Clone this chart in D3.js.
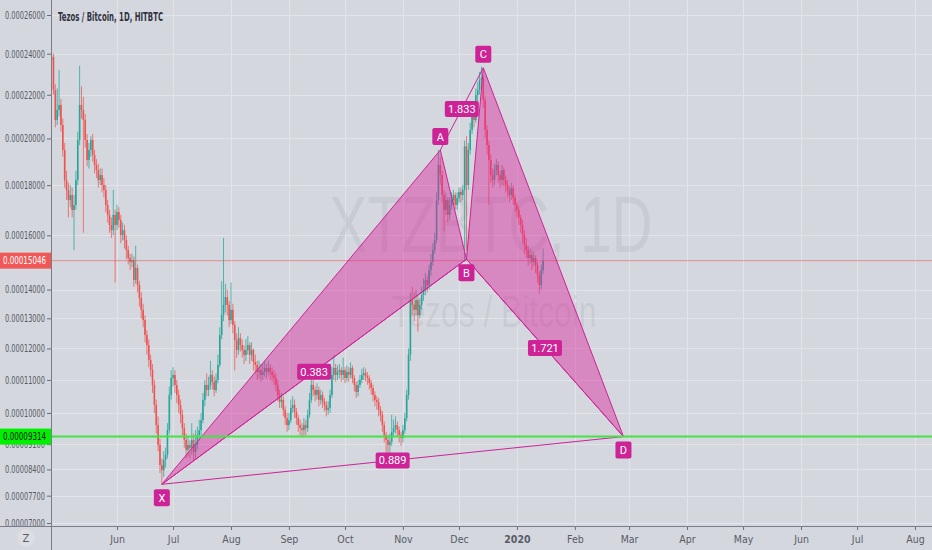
<!DOCTYPE html>
<html>
<head>
<meta charset="utf-8">
<script src="https://cdn.jsdelivr.net/npm/d3@7"></script>
<style>
  body { margin: 0; background: #d4d7de; }
  svg { display: block; }
</style>
</head>
<body>
<div id="chart"></div>
<script>
// XTZ/BTC daily candles, prices in satoshi (1e-8 BTC), one value per day from startDay
const startDay = "2019-04-26";
const firstOpen = 22950;
const closes = [
  23690,23840,22220,20830,21290,21520,20600,19490,18210,17800,
  17390,17595,16990,17190,18210,19930,21520,21290,20830,19930,
  19060,19490,19930,19275,18845,18630,18210,18420,18005,17800,
  17190,16795,16400,16200,16795,16400,16910,16600,16010,16200,
  15820,15440,15145,15000,15070,14340,14775,14160,13700,13290,
  12940,12440,12110,11630,11310,10845,10240,9645,9080,8520,
  8380,8660,8800,9500,10540,11060,11155,10845,10540,10240,
  9940,9555,9220,8940,9080,8995,9220,8885,9080,9360,
  9500,9790,10390,10845,10690,10845,11155,10940,10690,11000,
  11470,12440,13115,13460,13735,13460,12940,13290,12775,12270,
  11950,12340,12110,11950,11790,11950,12110,11790,11950,11565,
  11470,11250,11310,11155,11250,11375,11250,11375,11250,11155,
  11060,10845,10540,10330,10390,10090,9850,9645,9790,10150,
  10240,10030,9850,9645,9555,9500,9645,9555,9940,10390,
  10845,10690,10540,10690,10390,10540,10330,10240,10090,10150,
  10540,11155,11375,11155,11250,11310,11155,11310,11060,11250,
  11155,11375,11060,10845,10630,10845,11000,11155,11215,11125,
  11060,10905,10750,10540,10390,10330,10090,9940,9645,9360,
  9220,9080,9165,9445,9555,9645,9500,9360,9275,9500,
  9850,10540,11790,13630,13460,13290,13630,13115,13460,13805,
  13980,14340,14160,14700,15000,15440,15820,17390,18845,18420,
  17595,16990,17390,16795,17190,17390,17595,17190,17470,17720,
  17595,17800,19650,18005,19490,20380,21290,20830,21985,22220,
  22710,22810,21750,20380,19710,19060,18420,18210,18630,18845,
  18420,18210,18630,18210,18005,17800,17595,17880,17470,17190,
  16990,16680,16400,16010,15630,15440,15145,15255,15000,15145,
  14885,14520,14160,14700,15046
];
const highs = [
  24000,24050,24000,22500,22300,23200,21800,20900,19800,18600,
  18100,18000,17900,17600,18600,20300,23400,22400,21900,21100,
  20200,19800,20100,20200,19500,19100,18900,18700,18700,18300,
  18000,17400,17000,16700,17800,17000,17200,17100,16800,16500,
  16400,16000,15600,15300,15300,15200,15600,14900,14300,13900,
  13500,13100,12600,12300,11800,11500,11000,10400,9900,9250,
  8700,8900,9000,9700,10800,11300,11400,11300,11000,10700,
  10400,10100,9700,9400,9300,9200,9700,9400,9500,9600,
  9800,10000,10600,11000,11200,11100,11600,11300,11100,11200,
  11800,12700,14300,15900,14200,14000,13600,14250,13500,12900,
  12500,12700,12500,12300,12100,12300,12400,12200,12200,12000,
  11800,11600,11600,11500,11500,11600,11500,11600,11500,11400,
  11300,11200,11000,10700,10600,10500,10200,10000,10000,10400,
  10500,10400,10150,9950,9800,9700,9850,9800,10100,10600,
  11400,11000,10800,10900,10800,10700,10650,10450,10350,10350,
  10700,11400,11790,11500,11450,11500,11400,11700,11400,11450,
  11400,11550,11450,11150,10950,11000,11150,11350,11400,11350,
  11250,11150,11000,10850,10650,10500,10450,10200,10050,9750,
  9450,9350,9400,9950,9800,9900,9750,9600,9450,9650,
  10000,10700,12000,13900,14100,13900,14000,13800,13700,14100,
  14400,14600,14500,14900,15300,15700,16100,17700,19490,19200,
  18600,17800,17700,17500,17500,17700,17800,17700,17700,17900,
  17900,18000,19900,20100,19800,20700,21600,21500,22300,22600,
  23100,23350,22900,21900,20600,19900,19300,18700,18900,19100,
  19000,18600,18850,18750,18400,18200,17950,18100,18000,17600,
  17300,17100,16800,16600,16200,15900,15600,15500,15400,15350,
  15250,15000,14650,14900,15500
];
const lows = [
  22700,23300,22000,20500,20600,21000,20300,19200,17900,17400,
  16700,17100,16700,15440,17000,18000,19700,20900,16100,19600,
  18800,18700,19200,19000,18500,18300,17900,18000,17700,17500,
  16900,16500,16100,15900,16000,14250,16200,16300,15700,15800,
  15500,15100,14900,14700,14800,14100,14200,13900,13400,13000,
  12700,12200,11800,11400,11100,10600,10000,9400,8900,8300,
  8000,8200,8450,8700,9400,10400,10800,10600,10300,10000,
  9700,9350,9000,8700,8750,8700,8800,8650,8700,8950,
  9200,9300,9700,10200,10500,10500,10700,10700,10500,10600,
  10900,11400,12300,12900,13200,13100,12700,12800,12500,11300,
  11700,11800,11900,11700,11500,11600,11800,11500,11600,11300,
  11200,11000,11050,10950,11000,11100,11050,11150,11000,10950,
  10850,10650,10350,10150,10150,9900,9650,9450,9500,9700,
  10000,9850,9650,9450,9350,9300,9350,9350,9450,9850,
  10300,10500,10350,10400,10200,10250,10150,10050,9900,9950,
  10000,10450,11000,10950,11000,11050,10950,11000,10900,10950,
  10950,11050,10900,10650,10450,10500,10750,10900,11000,10950,
  10850,10700,10550,10350,10200,10100,9900,9750,9450,9150,
  8750,8750,8800,9050,9300,9400,9300,9150,9050,9150,
  9400,9750,10400,11600,13100,12900,13100,12550,13000,13300,
  13600,13800,13900,14000,14500,14850,15300,15700,17200,18000,
  17300,16150,16800,16500,16600,17000,17200,17000,17000,17300,
  17300,17400,15000,15400,17800,19300,20200,20500,20700,21700,
  22000,22300,21400,20000,19300,17200,18100,17900,18000,18400,
  18100,17900,18000,17950,17700,17500,17300,17400,17200,16900,
  16700,16400,16100,15700,15300,15150,14850,14950,14700,14850,
  14600,14250,13850,14000,14550
];

const lastPrice = 15046;
const levelPrice = 9314;

const yTicks = [26000,24000,22000,20000,18000,16000,14000,13000,12000,11000,10000,9100,8400,7700,7000];
const monthTicks = ["2019-06-01","2019-07-01","2019-08-01","2019-09-01","2019-10-01","2019-11-01","2019-12-01",
  "2020-01-01","2020-02-01","2020-03-01","2020-04-01","2020-05-01","2020-06-01","2020-07-01","2020-08-01"];
const monthLabels = ["Jun","Jul","Aug","Sep","Oct","Nov","Dec","2020","Feb","Mar","Apr","May","Jun","Jul","Aug"];

// harmonic pattern pivots
const pivotNames = ["X","A","B","C","D"];
const pivotDates = ["2019-06-25","2019-11-21","2019-12-05","2019-12-14","2020-02-27"];
const pivotPrices = [8000,19490,15100,23300,9314];
const pivotAbove = [false,true,false,true,false];
const ratioLegs = [["X","B"],["A","C"],["B","D"],["X","D"]];
const ratioValues = ["0.383","1.833","1.721","0.889"];

const width = 932, height = 550;
const left = 51, bottom = 526;
const parse = d3.utcParse("%Y-%m-%d");
const axisFont = "'Liberation Sans Narrow','DejaVu Sans Condensed',Roboto,sans-serif";
const magenta = "rgb(205,35,150)";

const x = d3.scaleUtc()
  .domain([parse("2019-06-01"), parse("2020-08-01")])
  .range([117, 915]);

// TradingView log-ish price scale: matches a symlog with a 0.0001 BTC constant
const y = d3.scaleSymlog()
  .constant(10000)
  .domain([7000, 26000])
  .range([523, 15]);

const t0 = parse(startDay);
const bars = closes.map((c, i) => ({
  date: d3.utcDay.offset(t0, i),
  open: i ? closes[i - 1] : firstOpen,
  high: highs[i],
  low: lows[i],
  close: c
}));

const svg = d3.select("#chart").append("svg")
  .attr("width", width)
  .attr("height", height)
  .attr("viewBox", [0, 0, width, height]);

svg.append("rect").attr("width", width).attr("height", height).attr("fill", "#d4d7de");

svg.append("clipPath").attr("id", "plot")
  .append("rect").attr("x", left).attr("y", 0).attr("width", width - left).attr("height", bottom);

// grid
const grid = svg.append("g").attr("stroke", "#e2e4e9").attr("stroke-width", 1);
grid.selectAll(".h").data(yTicks).join("line")
  .attr("x1", left).attr("x2", width)
  .attr("y1", d => Math.round(y(d)) + 0.5).attr("y2", d => Math.round(y(d)) + 0.5);
grid.selectAll(".v").data(monthTicks).join("line")
  .attr("y1", 0).attr("y2", bottom)
  .attr("x1", d => Math.round(x(parse(d))) + 0.5).attr("x2", d => Math.round(x(parse(d))) + 0.5);

// watermark
const wm = svg.append("g").attr("fill", "rgba(120,123,134,0.13)").attr("text-anchor", "middle")
  .attr("font-family", "'Liberation Sans','DejaVu Sans',sans-serif");
wm.append("text").attr("x", 491).attr("y", 252).attr("font-size", 80)
  .attr("textLength", 323).attr("lengthAdjust", "spacingAndGlyphs").text("XTZBTC, 1D");
wm.append("text").attr("x", 494).attr("y", 327).attr("font-size", 44)
  .attr("textLength", 205).attr("lengthAdjust", "spacingAndGlyphs").text("Tezos / Bitcoin");

// candles
const plot = svg.append("g").attr("clip-path", "url(#plot)");
const color = d => d.close >= d.open ? "#26a69a" : "#ef5350";
plot.append("g").selectAll("line").data(bars).join("line")
  .attr("x1", d => x(d.date)).attr("x2", d => x(d.date))
  .attr("y1", d => y(d.high)).attr("y2", d => y(d.low))
  .attr("stroke", color).attr("stroke-width", 1).attr("stroke-opacity", 0.75);
plot.append("g").selectAll("rect").data(bars).join("rect")
  .attr("x", d => x(d.date) - 0.8)
  .attr("width", 1.6)
  .attr("y", d => y(Math.max(d.open, d.close)))
  .attr("height", d => Math.max(1, Math.abs(y(d.open) - y(d.close))))
  .attr("fill", color);

// last price line
plot.append("line").attr("x1", left).attr("x2", width)
  .attr("y1", y(lastPrice)).attr("y2", y(lastPrice))
  .attr("stroke", "rgba(239,83,80,0.55)").attr("stroke-width", 1);

// XABCD pattern
const pts = pivotNames.map((n, i) => ({ name: n, px: x(parse(pivotDates[i])), py: y(pivotPrices[i]), above: pivotAbove[i] }));
const P = Object.fromEntries(pts.map(p => [p.name, p]));
const pat = plot.append("g");
pat.selectAll("polygon").data([["X","A","B"],["B","C","D"]]).join("polygon")
  .attr("points", d => d.map(n => [P[n].px, P[n].py].join(",")).join(" "))
  .attr("fill", "rgba(220,40,155,0.45)")
  .attr("stroke", magenta).attr("stroke-width", 1).attr("stroke-linejoin", "round");
pat.selectAll("line").data(ratioLegs).join("line")
  .attr("x1", d => P[d[0]].px).attr("y1", d => P[d[0]].py)
  .attr("x2", d => P[d[1]].px).attr("y2", d => P[d[1]].py)
  .attr("stroke", magenta).attr("stroke-width", 1);

// horizontal level
plot.append("line").attr("x1", left).attr("x2", width)
  .attr("y1", y(levelPrice)).attr("y2", y(levelPrice))
  .attr("stroke", "#45e245").attr("stroke-width", 2);

// ratio labels on legs
const labelFont = "Roboto,'Liberation Sans',sans-serif";
const ratios = svg.append("g").selectAll("g").data(ratioLegs).join("g")
  .attr("transform", d => `translate(${(P[d[0]].px + P[d[1]].px) / 2},${(P[d[0]].py + P[d[1]].py) / 2})`);
ratios.append("rect").attr("x", -17).attr("y", -8).attr("width", 34).attr("height", 16).attr("rx", 2)
  .attr("fill", magenta);
ratios.append("text").attr("text-anchor", "middle").attr("dy", "0.35em")
  .attr("fill", "#fff").attr("font-size", 11).attr("font-family", labelFont)
  .text((d, i) => ratioValues[i]);

// pivot labels
const pivots = svg.append("g").selectAll("g").data(pts).join("g")
  .attr("transform", d => `translate(${d.px},${d.above ? d.py - 13.5 : d.py + 13.5})`);
pivots.append("rect").attr("x", -8).attr("y", -8.5).attr("width", 16).attr("height", 17).attr("rx", 2)
  .attr("fill", magenta);
pivots.append("text").attr("text-anchor", "middle").attr("dy", "0.36em")
  .attr("fill", "#fff").attr("font-size", 11).attr("font-family", labelFont)
  .text(d => d.name);

// axes
const yAxis = svg.append("g").attr("transform", `translate(${left},0)`)
  .call(d3.axisLeft(y).tickValues(yTicks).tickFormat(d => (d / 1e8).toFixed(8)).tickSize(4).tickPadding(2));
yAxis.select(".domain").remove();
yAxis.selectAll("line").attr("stroke", "#6a6d78");
yAxis.selectAll("text").attr("fill", "#585b66").attr("font-size", 10.5).attr("font-family", axisFont)
  .attr("textLength", 40).attr("lengthAdjust", "spacingAndGlyphs");

const xAxis = svg.append("g").attr("transform", `translate(0,${bottom})`)
  .call(d3.axisBottom(x).tickValues(monthTicks.map(parse)).tickFormat((d, i) => monthLabels[i]).tickSize(4).tickPadding(6));
xAxis.select(".domain").remove();
xAxis.selectAll("line").attr("stroke", "#6a6d78");
xAxis.selectAll("text").attr("fill", "#585b66").attr("font-size", 10.5).attr("font-family", axisFont)
  .attr("font-weight", (d, i) => monthLabels[i] === "2020" ? "bold" : null);

svg.append("line").attr("x1", 0).attr("x2", width).attr("y1", bottom + 0.5).attr("y2", bottom + 0.5)
  .attr("stroke", "#7a7d88");
svg.append("line").attr("x1", left + 0.5).attr("x2", left + 0.5).attr("y1", 0).attr("y2", height)
  .attr("stroke", "#7a7d88");

// price tags on the scale
const tags = [
  { price: lastPrice, bg: "#f05858", fg: "#fff" },
  { price: levelPrice, bg: "#00f000", fg: "#111" }
];
const tag = svg.append("g").selectAll("g").data(tags).join("g")
  .attr("transform", d => `translate(0,${y(d.price)})`);
tag.append("rect").attr("x", 0).attr("y", -8).attr("width", left).attr("height", 16).attr("fill", d => d.bg);
tag.append("text").attr("x", 3).attr("dy", "0.35em").attr("fill", d => d.fg)
  .attr("font-size", 10.5).attr("font-family", axisFont)
  .attr("textLength", 43).attr("lengthAdjust", "spacingAndGlyphs")
  .text(d => (d.price / 1e8).toFixed(8));

// title
svg.append("text").attr("x", 58).attr("y", 21)
  .attr("fill", "#2f3241").attr("font-size", 11.5).attr("font-weight", "bold")
  .attr("font-family", "'Liberation Sans Narrow','DejaVu Sans Condensed',Roboto,sans-serif")
  .attr("textLength", 105).attr("lengthAdjust", "spacingAndGlyphs")
  .text("Tezos / Bitcoin, 1D, HITBTC");

// timezone button
svg.append("circle").attr("cx", 26).attr("cy", 538).attr("r", 9).attr("fill", "#dcdee3");
svg.append("text").attr("x", 26).attr("y", 538).attr("dy", "0.35em").attr("text-anchor", "middle")
  .attr("fill", "#585b66").attr("font-size", 11).attr("font-family", axisFont).text("Z");
</script>
</body>
</html>
